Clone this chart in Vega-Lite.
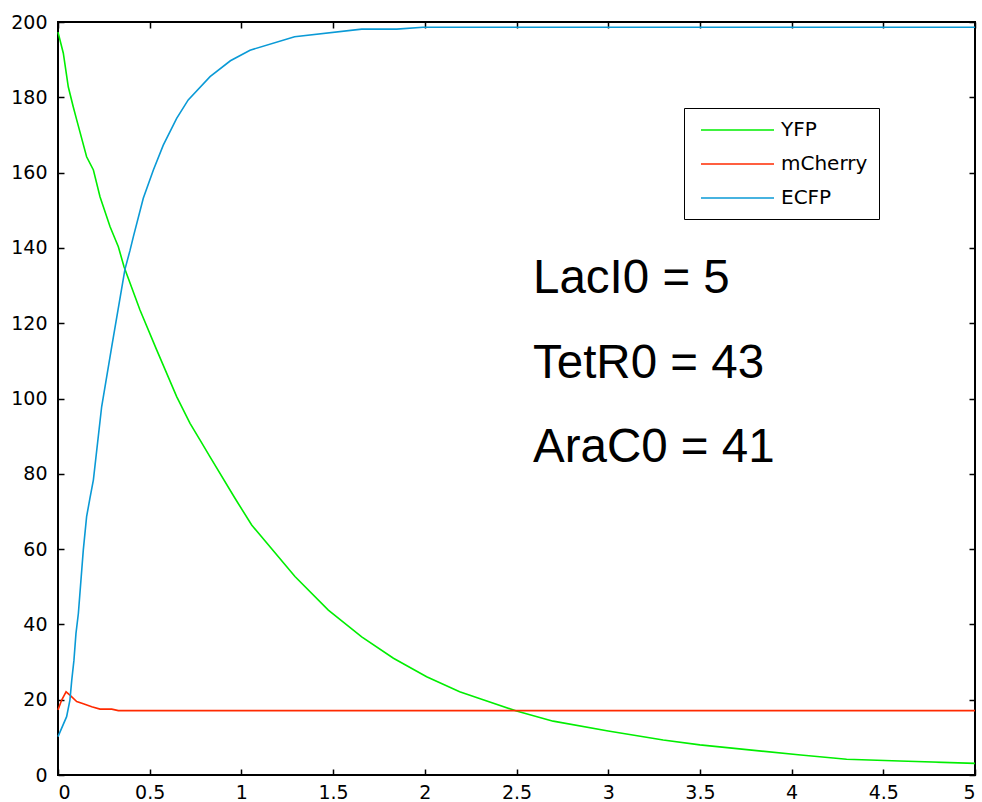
{
  "$schema": "https://vega.github.io/schema/vega-lite/v6.json",
  "width": 917,
  "height": 753,
  "autosize": "none",
  "padding": {"left": 58, "top": 22, "right": 7, "bottom": 27},
  "background": "white",
  "config": {
    "view": {"stroke": "black", "strokeWidth": 2},
    "font": "Liberation Sans",
    "axis": {
      "domain": false,
      "grid": false,
      "title": null,
      "tickColor": "black",
      "tickWidth": 1.5,
      "tickSize": -6,
      "labelFont": "DejaVu Sans",
      "labelFontSize": 19,
      "labelColor": "black"
    }
  },
  "datasets": {
    "series": [
      {"t": 0, "v": 197.3, "s": "YFP"},
      {"t": 0.029, "v": 191.7, "s": "YFP"},
      {"t": 0.056, "v": 182.8, "s": "YFP"},
      {"t": 0.083, "v": 177.5, "s": "YFP"},
      {"t": 0.102, "v": 174, "s": "YFP"},
      {"t": 0.156, "v": 164.2, "s": "YFP"},
      {"t": 0.193, "v": 160.7, "s": "YFP"},
      {"t": 0.229, "v": 153.6, "s": "YFP"},
      {"t": 0.284, "v": 145.6, "s": "YFP"},
      {"t": 0.329, "v": 140.3, "s": "YFP"},
      {"t": 0.36, "v": 135, "s": "YFP"},
      {"t": 0.447, "v": 123.5, "s": "YFP"},
      {"t": 0.538, "v": 112.9, "s": "YFP"},
      {"t": 0.647, "v": 100.5, "s": "YFP"},
      {"t": 0.72, "v": 93.4, "s": "YFP"},
      {"t": 0.774, "v": 89, "s": "YFP"},
      {"t": 0.829, "v": 84.5, "s": "YFP"},
      {"t": 0.965, "v": 73.5, "s": "YFP"},
      {"t": 1.056, "v": 66.4, "s": "YFP"},
      {"t": 1.292, "v": 52.7, "s": "YFP"},
      {"t": 1.474, "v": 43.8, "s": "YFP"},
      {"t": 1.656, "v": 36.7, "s": "YFP"},
      {"t": 1.829, "v": 31, "s": "YFP"},
      {"t": 2.01, "v": 26.1, "s": "YFP"},
      {"t": 2.19, "v": 22.1, "s": "YFP"},
      {"t": 2.31, "v": 20.1, "s": "YFP"},
      {"t": 2.5, "v": 17, "s": "YFP"},
      {"t": 2.7, "v": 14.3, "s": "YFP"},
      {"t": 3.0, "v": 11.7, "s": "YFP"},
      {"t": 3.3, "v": 9.3, "s": "YFP"},
      {"t": 3.5, "v": 8, "s": "YFP"},
      {"t": 4.05, "v": 5.3, "s": "YFP"},
      {"t": 4.3, "v": 4.2, "s": "YFP"},
      {"t": 4.59, "v": 3.7, "s": "YFP"},
      {"t": 5, "v": 3.1, "s": "YFP"},
      {"t": 0, "v": 17.3, "s": "mCherry"},
      {"t": 0.02, "v": 19.9, "s": "mCherry"},
      {"t": 0.044, "v": 22.1, "s": "mCherry"},
      {"t": 0.065, "v": 21.2, "s": "mCherry"},
      {"t": 0.102, "v": 19.5, "s": "mCherry"},
      {"t": 0.138, "v": 18.9, "s": "mCherry"},
      {"t": 0.184, "v": 18.1, "s": "mCherry"},
      {"t": 0.229, "v": 17.5, "s": "mCherry"},
      {"t": 0.293, "v": 17.5, "s": "mCherry"},
      {"t": 0.329, "v": 17.1, "s": "mCherry"},
      {"t": 5, "v": 17.1, "s": "mCherry"},
      {"t": 0, "v": 10.2, "s": "ECFP"},
      {"t": 0.047, "v": 15.5, "s": "ECFP"},
      {"t": 0.065, "v": 19.9, "s": "ECFP"},
      {"t": 0.075, "v": 25.2, "s": "ECFP"},
      {"t": 0.087, "v": 30.5, "s": "ECFP"},
      {"t": 0.098, "v": 37.6, "s": "ECFP"},
      {"t": 0.111, "v": 42.9, "s": "ECFP"},
      {"t": 0.138, "v": 59.8, "s": "ECFP"},
      {"t": 0.156, "v": 68.6, "s": "ECFP"},
      {"t": 0.174, "v": 73.5, "s": "ECFP"},
      {"t": 0.193, "v": 78.4, "s": "ECFP"},
      {"t": 0.238, "v": 97.8, "s": "ECFP"},
      {"t": 0.293, "v": 113.8, "s": "ECFP"},
      {"t": 0.365, "v": 134.3, "s": "ECFP"},
      {"t": 0.393, "v": 139.4, "s": "ECFP"},
      {"t": 0.411, "v": 143, "s": "ECFP"},
      {"t": 0.465, "v": 153.2, "s": "ECFP"},
      {"t": 0.52, "v": 160.7, "s": "ECFP"},
      {"t": 0.574, "v": 167.3, "s": "ECFP"},
      {"t": 0.647, "v": 174.4, "s": "ECFP"},
      {"t": 0.71, "v": 179.3, "s": "ECFP"},
      {"t": 0.829, "v": 185.5, "s": "ECFP"},
      {"t": 0.94, "v": 189.7, "s": "ECFP"},
      {"t": 1.047, "v": 192.5, "s": "ECFP"},
      {"t": 1.29, "v": 196.1, "s": "ECFP"},
      {"t": 1.656, "v": 198.1, "s": "ECFP"},
      {"t": 1.847, "v": 198.1, "s": "ECFP"},
      {"t": 1.99, "v": 198.6, "s": "ECFP"},
      {"t": 5, "v": 198.6, "s": "ECFP"}
    ],
    "notes": [
      {"t": 2.59, "v": 128, "label": "LacI0 = 5"},
      {"t": 2.59, "v": 105.4, "label": "TetR0 = 43"},
      {"t": 2.59, "v": 83.1, "label": "AraC0 = 41"}
    ]
  },
  "layer": [
    {
      "data": {"name": "series"},
      "mark": {"type": "line", "strokeWidth": 1.6},
      "encoding": {
        "x": {
          "field": "t", "type": "quantitative",
          "scale": {"domain": [0, 5], "nice": false, "zero": false},
          "axis": {"orient": "bottom", "values": [0, 0.5, 1, 1.5, 2, 2.5, 3, 3.5, 4, 4.5, 5], "format": "~g", "labelPadding": 14}
        },
        "y": {
          "field": "v", "type": "quantitative",
          "scale": {"domain": [0, 200], "nice": false},
          "axis": {"orient": "left", "values": [0, 20, 40, 60, 80, 100, 120, 140, 160, 180, 200], "labelPadding": 17}
        },
        "color": {
          "field": "s", "type": "nominal",
          "scale": {"domain": ["YFP", "mCherry", "ECFP"], "range": ["#00ee00", "#ff2a00", "#0a9ad6"]},
          "legend": {
            "orient": "none", "legendX": 626, "legendY": 86,
            "title": null,
            "symbolType": "M-3.65,0H3.65",
            "symbolSize": 400,
            "symbolStrokeWidth": 1.6,
            "symbolOffset": 31.5,
            "labelOffset": 32.5,
            "labelFont": "DejaVu Sans",
            "labelFontSize": 20,
            "labelColor": "black",
            "rowPadding": 13,
            "padding": 11,
            "strokeColor": "black",
            "fillColor": "white"
          }
        }
      }
    },
    {
      "data": {"name": "series"},
      "mark": {"type": "line", "strokeOpacity": 0},
      "encoding": {
        "x": {
          "field": "t", "type": "quantitative",
          "axis": {"orient": "top", "values": [0, 0.5, 1, 1.5, 2, 2.5, 3, 3.5, 4, 4.5, 5], "labels": false}
        },
        "y": {
          "field": "v", "type": "quantitative",
          "axis": {"orient": "right", "values": [0, 20, 40, 60, 80, 100, 120, 140, 160, 180, 200], "labels": false}
        },
        "detail": {"field": "s"}
      }
    },
    {
      "data": {"name": "notes"},
      "mark": {"type": "text", "align": "left", "baseline": "alphabetic", "fontSize": 47.5, "font": "Liberation Sans", "color": "black"},
      "encoding": {
        "x": {"field": "t", "type": "quantitative", "axis": null},
        "y": {"field": "v", "type": "quantitative", "axis": null},
        "text": {"field": "label"}
      }
    }
  ],
  "resolve": {"axis": {"x": "independent", "y": "independent"}}
}
